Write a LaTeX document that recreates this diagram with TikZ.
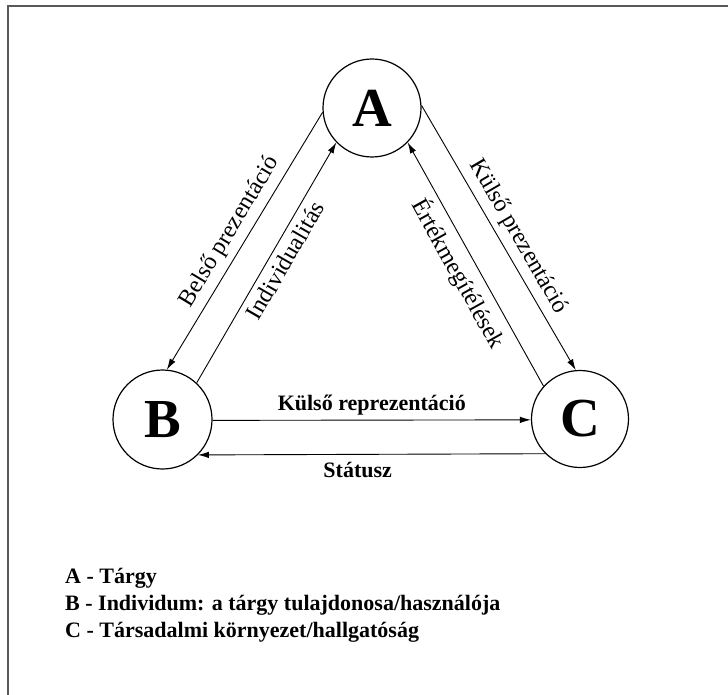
\documentclass[tikz,border=0pt]{standalone}
\usepackage{fontspec}
\setmainfont{Liberation Serif}
\usetikzlibrary{arrows.meta}
\begin{document}
\begin{tikzpicture}[x=1pt,y=1pt,
  vertex/.style={circle,draw,line width=1.2pt,inner sep=0pt,minimum size=#1,
    font=\fontsize{55}{55}\selectfont\bfseries},
  conn/.style={line width=0.9pt,-{Latex[length=11pt,width=6.5pt]}},
  slabel/.style={sloped,font=\fontsize{24}{24}\selectfont,inner sep=6pt},
  hlabel/.style={font=\fontsize{22}{22}\selectfont\bfseries},
  legend/.style={anchor=base west,font=\fontsize{22}{22}\selectfont\bfseries,inner sep=0pt},
  frame/.style={line width=1.6pt,draw=black!65}]
\useasboundingbox (0,0) rectangle (728,-695);
% frame
\coordinate (f1) at (728,-6);
\coordinate (f2) at (8,-6);
\coordinate (f3) at (8,-695);
\draw[frame] (f1) -- (f2) -- (f3);
% vertices
\node[vertex=98pt] (A) at (372,-108) {A};
\node[vertex=99pt] (B) at (162.5,-419.5) {B};
\node[vertex=97pt] (C) at (580,-419) {C};
% connectors
\draw[conn] (A.185) -- (B.85) node[slabel,midway,above] {Belső prezentáció};
\draw[conn] (B.47) -- (A.224) node[slabel,pos=0.54,below] {Individualitás};
\draw[conn] (A.3) -- (C.95) node[slabel,pos=0.53,above] {Külső prezentáció};
\draw[conn] (C.138) -- (A.316) node[slabel,pos=0.5,below] {Értékmegítélések};
\draw[conn] (B.-1) -- (C.181) node[hlabel,midway,above,inner sep=4.5pt] {Külső reprezentáció};
\draw[conn] (C.225) -- (B.-45) node[hlabel,pos=0.54,below,inner sep=7.5pt] {Státusz};
% legend
\node[legend] (l1) at (65,-583) {A - Tárgy};
\node[legend] (l2) at (65,-610) {B - Individum: a tárgy tulajdonosa/használója};
\node[legend] (l3) at (65,-637) {C - Társadalmi környezet/hallgatóság};
\end{tikzpicture}
\end{document}
